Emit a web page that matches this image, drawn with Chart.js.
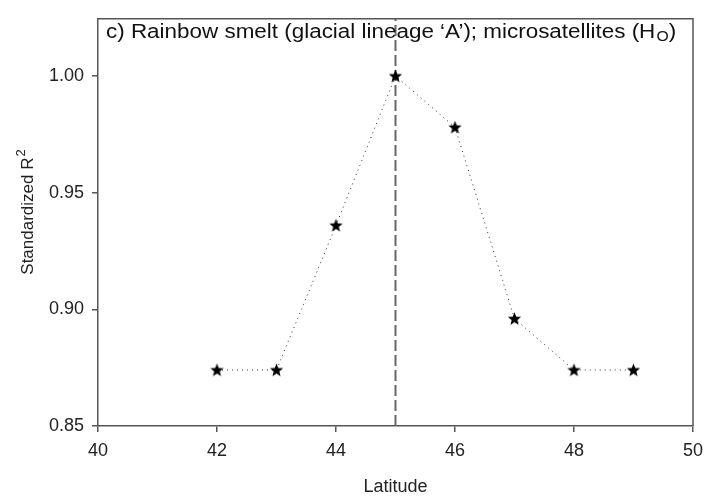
<!DOCTYPE html>
<html>
<head>
<meta charset="utf-8">
<script src="https://cdn.jsdelivr.net/npm/chart.js@4/dist/chart.umd.min.js"></script>
<style>
html,body{margin:0;padding:0;background:#fff;}
#wrap{width:709px;height:500px;position:relative;}
</style>
</head>
<body>
<div id="wrap"><canvas id="c" width="709" height="500"></canvas></div>
<script>
// ---- data ----
const latitudes = [42, 43, 44, 45, 46, 47, 48, 49];
const standardizedR2 = [0.874, 0.874, 0.936, 1.000, 0.978, 0.896, 0.874, 0.874];
const referenceLatitude = 45;
const xTicks = [40, 42, 44, 46, 48, 50];
const yTicks = [0.85, 0.90, 0.95, 1.00];
const yRange = [0.85, 1.0245];
const titleMain = "c) Rainbow smelt (glacial lineage \u2018A\u2019); microsatellites (H";
const titleSub = "O";
const titleEnd = ")";
const xLabel = "Latitude";
const yLabelMain = "Standardized R";
const yLabelSup = "2";

const FONT = '"Liberation Sans", Arial, sans-serif';

// filled five-point star marker
function makeStar(size) {
  const cv = document.createElement('canvas');
  cv.width = size; cv.height = size;
  const g = cv.getContext('2d');
  const cx = size / 2, cy = size / 2 + 0.5, R = size / 2 - 0.5, r = R * 0.42;
  g.beginPath();
  for (let i = 0; i < 10; i++) {
    const a = -Math.PI / 2 + i * Math.PI / 5;
    const rr = i % 2 === 0 ? R : r;
    g.lineTo(cx + rr * Math.cos(a), cy + rr * Math.sin(a));
  }
  g.closePath();
  g.fillStyle = '#000';
  g.fill();
  return cv;
}
const star = makeStar(15);

const frame = {
  id: 'frame',
  afterDatasetsDraw(chart) {
    const {ctx, chartArea: a} = chart;
    ctx.save();
    ctx.strokeStyle = '#555';
    ctx.lineWidth = 1.5;
    ctx.beginPath();
    ctx.moveTo(a.left, a.top);
    ctx.lineTo(a.right, a.top);
    ctx.lineTo(a.right, a.bottom);
    ctx.stroke();
    // title inside plot
    ctx.fillStyle = '#111';
    ctx.textBaseline = 'alphabetic';
    ctx.font = '20px ' + FONT;
    const w1 = ctx.measureText(titleMain).width;
    ctx.font = '14px ' + FONT;
    const w2 = ctx.measureText(titleSub).width;
    ctx.font = '20px ' + FONT;
    const w3 = ctx.measureText(titleEnd).width;
    const target = 569;
    const s = target / (w1 + w2 + w3);
    ctx.translate(a.left + 8, 38);
    ctx.scale(s, 1);
    ctx.fillText(titleMain, 0, 0);
    ctx.font = '14px ' + FONT;
    ctx.fillText(titleSub, w1 + 1, 3);
    ctx.font = '20px ' + FONT;
    ctx.fillText(titleEnd, w1 + w2 + 1, 0);
    ctx.restore();

    // y axis title with superscript
    ctx.save();
    ctx.fillStyle = '#222';
    ctx.font = '17px ' + FONT;
    const m1 = ctx.measureText(yLabelMain).width;
    ctx.font = '13px ' + FONT;
    const m2 = ctx.measureText(yLabelSup).width;
    const total = m1 + m2 + 1;
    ctx.translate(33, 212);
    ctx.rotate(-Math.PI / 2);
    ctx.textBaseline = 'alphabetic';
    ctx.textAlign = 'left';
    ctx.font = '17px ' + FONT;
    ctx.fillText(yLabelMain, -total / 2, 0);
    ctx.font = '13px ' + FONT;
    ctx.fillText(yLabelSup, -total / 2 + m1 + 1, -8);
    ctx.restore();
  }
};

new Chart(document.getElementById('c'), {
  type: 'scatter',
  data: {
    datasets: [
      {
        label: 'reference',
        data: [{x: referenceLatitude, y: yRange[0]}, {x: referenceLatitude, y: yRange[1]}],
        showLine: true,
        borderColor: '#666',
        borderWidth: 2,
        borderDash: [11, 4],
        pointRadius: 0,
        order: 2
      },
      {
        label: 'R2',
        data: latitudes.map((x, i) => ({x: x, y: standardizedR2[i]})),
        showLine: true,
        borderColor: '#333',
        borderWidth: 1,
        borderDash: [1, 4],
        pointStyle: star,
        pointRadius: 7,
        order: 1
      }
    ]
  },
  options: {
    responsive: false,
    animation: false,
    devicePixelRatio: 1,
    layout: {padding: {top: 9, right: 16, left: 0, bottom: 0}},
    plugins: {legend: {display: false}, tooltip: {enabled: false}, title: {display: false}},
    scales: {
      x: {
        type: 'linear',
        min: xTicks[0], max: xTicks[xTicks.length - 1],
        afterBuildTicks(scale) { scale.ticks = xTicks.map(v => ({value: v})); },
        afterFit(scale) { scale.height = 74; scale.paddingRight = 0; scale.paddingLeft = 0; },
        grid: {drawOnChartArea: false, drawTicks: true, tickLength: 6, color: '#555', lineWidth: 1.5},
        border: {display: true, color: '#555', width: 1.5},
        ticks: {color: '#222', font: {family: FONT, size: 18}, padding: 8,
                callback: v => String(v), maxRotation: 0},
        title: {display: true, text: xLabel, color: '#222', font: {family: FONT, size: 18}, padding: {top: 0, bottom: 2}}
      },
      y: {
        type: 'linear',
        min: yRange[0], max: yRange[1],
        afterBuildTicks(scale) { scale.ticks = yTicks.map(v => ({value: v})); },
        afterFit(scale) { scale.width = 98; },
        grid: {drawOnChartArea: false, drawTicks: true, tickLength: 6, color: '#555', lineWidth: 1.5},
        border: {display: true, color: '#555', width: 1.5},
        ticks: {color: '#222', font: {family: FONT, size: 18}, padding: 8,
                callback: v => v.toFixed(2)},
        title: {display: false}
      }
    }
  },
  plugins: [frame]
});
</script>
</body>
</html>
